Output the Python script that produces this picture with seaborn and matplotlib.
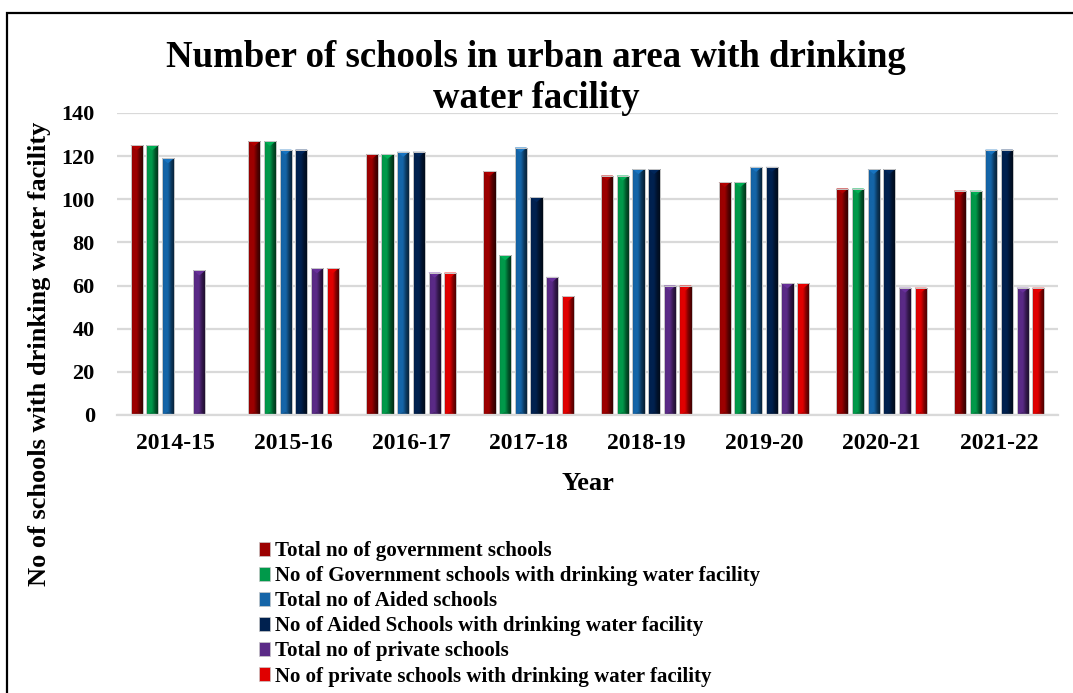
import numpy as np
import pandas as pd
import matplotlib
matplotlib.use("Agg")
import matplotlib.pyplot as plt
import matplotlib.colors as mcolors
from matplotlib.patches import Patch, Rectangle, Polygon
import seaborn as sns

# ---- data ----------------------------------------------------------------
years = ["2014-15", "2015-16", "2016-17", "2017-18",
         "2018-19", "2019-20", "2020-21", "2021-22"]
govt_total = [125, 127, 121, 113, 111, 108, 105, 104]
govt_water = [125, 127, 121, 74, 111, 108, 105, 104]
aided_total = [119, 123, 122, 124, 114, 115, 114, 123]
aided_water = [np.nan, 123, 122, 101, 114, 115, 114, 123]
private_total = [67, 68, 66, 64, 60, 61, 59, 59]
private_water = [np.nan, 68, 66, 55, 60, 61, 59, 59]

series_labels = [
    "Total no of government schools",
    "No of Government schools with drinking water facility",
    "Total no of Aided schools",
    "No of Aided Schools with drinking water facility",
    "Total no of private schools",
    "No of private schools with drinking water facility",
]
series_values = [govt_total, govt_water, aided_total,
                 aided_water, private_total, private_water]
series_colors = ["#9c0000", "#00994a", "#1565a8",
                 "#00214f", "#5a2a86", "#e00000"]

title_lines = ["Number of schools in urban area with drinking", "water facility"]
y_label = "No of schools with drinking water facility"
x_label = "Year"

df = pd.DataFrame({
    "Year": np.tile(years, len(series_labels)),
    "Series": np.repeat(series_labels, len(years)),
    "Schools": np.concatenate([np.asarray(v, dtype=float) for v in series_values]),
})

# ---- style ---------------------------------------------------------------
sns.set_theme(style="white")
plt.rcParams["font.family"] = ["Liberation Serif", "DejaVu Serif"]
plt.rcParams["font.weight"] = "bold"
for key in ["text.color", "axes.labelcolor", "xtick.color", "ytick.color"]:
    plt.rcParams[key] = "black"

W, H = 1073, 693
fig = plt.figure(figsize=(W / 100, H / 100), dpi=100)
ax = fig.add_axes([117 / W, 1 - 415 / H, 941 / W, 302 / H])

sns.barplot(data=df, x="Year", y="Schools", hue="Series",
            order=years, hue_order=series_labels,
            palette=series_colors, saturation=1,
            width=0.8, gap=0.23, dodge=True, legend=False,
            errorbar=None, ax=ax)

ax.set_xlim(-0.5, len(years) - 0.5)
ax.set_ylim(0, 140)
ax.set_yticks(np.arange(0, 141, 20))

# ---- shaded bar faces ----------------------------------------------------
profile_pos = [0.0, 0.12, 0.45, 0.72, 1.0]
profile_val = [0.72, 1.0, 1.0, 0.55, 0.28]
xs = np.linspace(0, 1, 64)
shade = np.interp(xs, profile_pos, profile_val)

# data units per pixel on the value axis (bevel size)
units_per_px = 140 / 302

bars = list(ax.patches)
for p in bars:
    h = p.get_height()
    if not np.isfinite(h) or h <= 0:
        continue
    base = np.array(mcolors.to_rgb(p.get_facecolor()))
    x0 = p.get_x()
    w = p.get_width()
    img = np.clip(shade[None, :, None] * base[None, None, :], 0, 1)
    im = ax.imshow(img, extent=[x0, x0 + w, 0, h], aspect="auto",
                   interpolation="bilinear", zorder=2.1)
    im.set_clip_path(p)
    # bevel at the top of the bar
    d = 5.0 * units_per_px
    light = np.clip(base * 0.7 + 0.3 * np.minimum(base * 1.5, 1), 0, 1)
    ax.add_patch(Polygon([[x0, h], [x0 + w, h], [x0 + w / 2, h - d]],
                         closed=True, facecolor=light, edgecolor="none",
                         zorder=2.2))
    # bevel at the bottom
    ax.add_patch(Polygon([[x0, 0], [x0 + w, 0], [x0 + w / 2, d * 0.6]],
                         closed=True, facecolor=base * 0.8, edgecolor="none",
                         zorder=2.2))
    p.set_facecolor("none")
    p.set_edgecolor("#c8c8c8")
    p.set_linewidth(0.7)
    p.set_zorder(2.3)

ax.set_xlim(-0.5, len(years) - 0.5)
ax.set_ylim(0, 140)

# ---- axes decoration -----------------------------------------------------
ax.grid(axis="y", color="#d9d9d9", linewidth=1.6, zorder=0)
ax.set_axisbelow(True)
for side in ["top", "right", "left"]:
    ax.spines[side].set_visible(False)
ax.spines["bottom"].set_color("#d9d9d9")
ax.spines["bottom"].set_linewidth(1.6)
ax.tick_params(axis="both", length=0, labelsize=16, colors="black")
ax.tick_params(axis="x", labelsize=17, pad=13)
ax.tick_params(axis="y", pad=16)
for lbl in ax.get_xticklabels() + ax.get_yticklabels():
    lbl.set_fontweight("bold")
ax.set_xlabel("")
ax.set_ylabel("")

fig.text(588 / W, 1 - 490 / H, x_label, ha="center", va="baseline",
         fontsize=19, fontweight="bold")
fig.text(40 / W, 1 - 354 / H, y_label, ha="center", va="center",
         rotation=90, fontsize=19, fontweight="bold")

fig.text(536 / W, 1 - 67 / H, title_lines[0], ha="center", va="baseline",
         fontsize=26.5, fontweight="bold")
fig.text(536 / W, 1 - 108 / H, title_lines[1], ha="center", va="baseline",
         fontsize=26.5, fontweight="bold")

# ---- legend --------------------------------------------------------------
handles = [Patch(facecolor=c, edgecolor="#c8c8c8", linewidth=0.5)
           for c in series_colors]
fig.legend(handles, series_labels, loc="upper left",
           bbox_to_anchor=(259 / W, 1 - 541 / H), frameon=False,
           prop={"size": 15, "weight": "bold"},
           handlelength=0.55, handleheight=0.65, handletextpad=0.2,
           labelspacing=0.245, borderpad=0, borderaxespad=0)

# outer frame
fig.patches.append(Rectangle((7 / W, -0.1), 1.2, 1.1 - 13 / H,
                             transform=fig.transFigure, fill=False,
                             edgecolor="black", linewidth=1.6))

fig.savefig("out.png", dpi=100)
